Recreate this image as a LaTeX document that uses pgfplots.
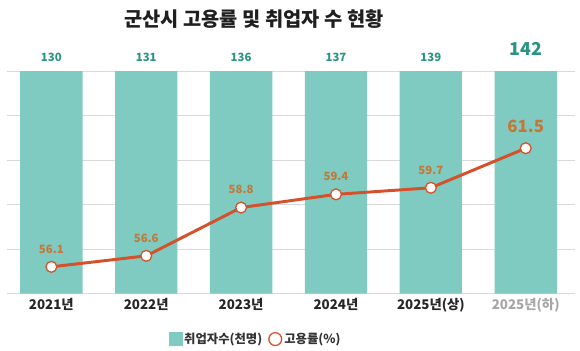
\documentclass[border=0pt]{standalone}
\usepackage{pgfplots}
\pgfplotsset{compat=1.18}
\usepackage{fontspec}
\setmainfont{Noto Sans CJK KR}
\definecolor{barcol}{HTML}{7FCBC1}
\definecolor{tealtxt}{HTML}{2A9484}
\definecolor{linecol}{HTML}{D4512B}
\definecolor{lbl}{HTML}{C47838}
\begin{document}
\begin{tikzpicture}[x=1pt,y=1pt]
\path (0,-58) rectangle (580,297);
\node[font=\fontsize{20}{22}\selectfont\bfseries, text=black!88] at (250,278) {군산시 고용률 및 취업자 수 현황};
\begin{axis}[at={(0,0)}, anchor=south west, scale only axis, width=575pt, height=225pt,
  xmin=-0.47, xmax=5.52, ymin=0, ymax=5, clip=false,
  axis line style={draw=none}, tick style={draw=none},
  ytick={0,1,2,3,4,5}, yticklabels={}, ymajorgrids, grid style={black!15, line width=0.6pt},
  xtick={0,1,2,3,4,5},
  xticklabels={2021년,2022년,2023년,2024년,2025년(상),{\color{black!35}2025년(하)}},
  xticklabel style={font=\fontsize{13.5}{15}\selectfont\bfseries, text=black!85, yshift=-1pt},
  major tick length=0pt]
\addplot[ybar, bar width=63pt, fill=barcol, draw=none] coordinates {(0,5) (1,5) (2,5) (3,5) (4,5) (5,5)};
\addplot[draw=none, mark=none, nodes near coords, point meta=explicit symbolic,
  nodes near coords style={font=\fontsize{11.5}{13}\selectfont\bfseries, text=tealtxt, anchor=center, yshift=14pt}]
  coordinates {(0,5)[130] (1,5)[131] (2,5)[136] (3,5)[137] (4,5)[139]};
\addplot[draw=none, mark=none, nodes near coords, point meta=explicit symbolic,
  nodes near coords style={font=\fontsize{18}{20}\selectfont\bfseries, text=tealtxt, anchor=center, yshift=22pt}]
  coordinates {(5,5)[142]};
\end{axis}
\begin{axis}[at={(0,0)}, anchor=south west, scale only axis, width=575pt, height=225pt,
  xmin=-0.47, xmax=5.52, ymin=54.885, ymax=65.01, clip=false, axis lines=none,
  legend style={at={(0.438,-0.205)}, anchor=center, draw=none, fill=none,
    legend columns=2, font=\fontsize{12.5}{14}\selectfont\bfseries, text=black!80,
    /tikz/every even column/.append style={column sep=4pt}},
  legend cell align=left]
\addlegendimage{legend image code/.code={\fill[barcol] (0pt,-6.5pt) rectangle (13pt,6.5pt);}}
\addlegendentry{취업자수(천명)}
\addlegendimage{legend image code/.code={\draw[linecol, line width=1.3pt, fill=white] (6.5pt,0pt) circle (6.5pt);}}
\addlegendentry{고용률(\%)}
\addplot[forget plot, linecol, line width=3pt, mark=*, mark size=5.5pt,
  mark options={fill=white, draw=linecol, line width=1.3pt}]
  coordinates {(0,56.1) (1,56.6) (2,58.8) (3,59.4) (4,59.7) (5,61.5)};
\addplot[forget plot, draw=none, mark=none, nodes near coords, point meta=explicit symbolic,
  nodes near coords style={font=\fontsize{11.5}{13}\selectfont\bfseries, text=lbl, anchor=center, yshift=18pt}]
  coordinates {(0,56.1)[56.1] (1,56.6)[56.6] (2,58.8)[58.8] (3,59.4)[59.4] (4,59.7)[59.7]};
\addplot[forget plot, draw=none, mark=none, nodes near coords, point meta=explicit symbolic,
  nodes near coords style={font=\fontsize{17}{19}\selectfont\bfseries, text=lbl, anchor=center, yshift=22pt}]
  coordinates {(5,61.5)[61.5]};
\end{axis}
\end{tikzpicture}
\end{document}
